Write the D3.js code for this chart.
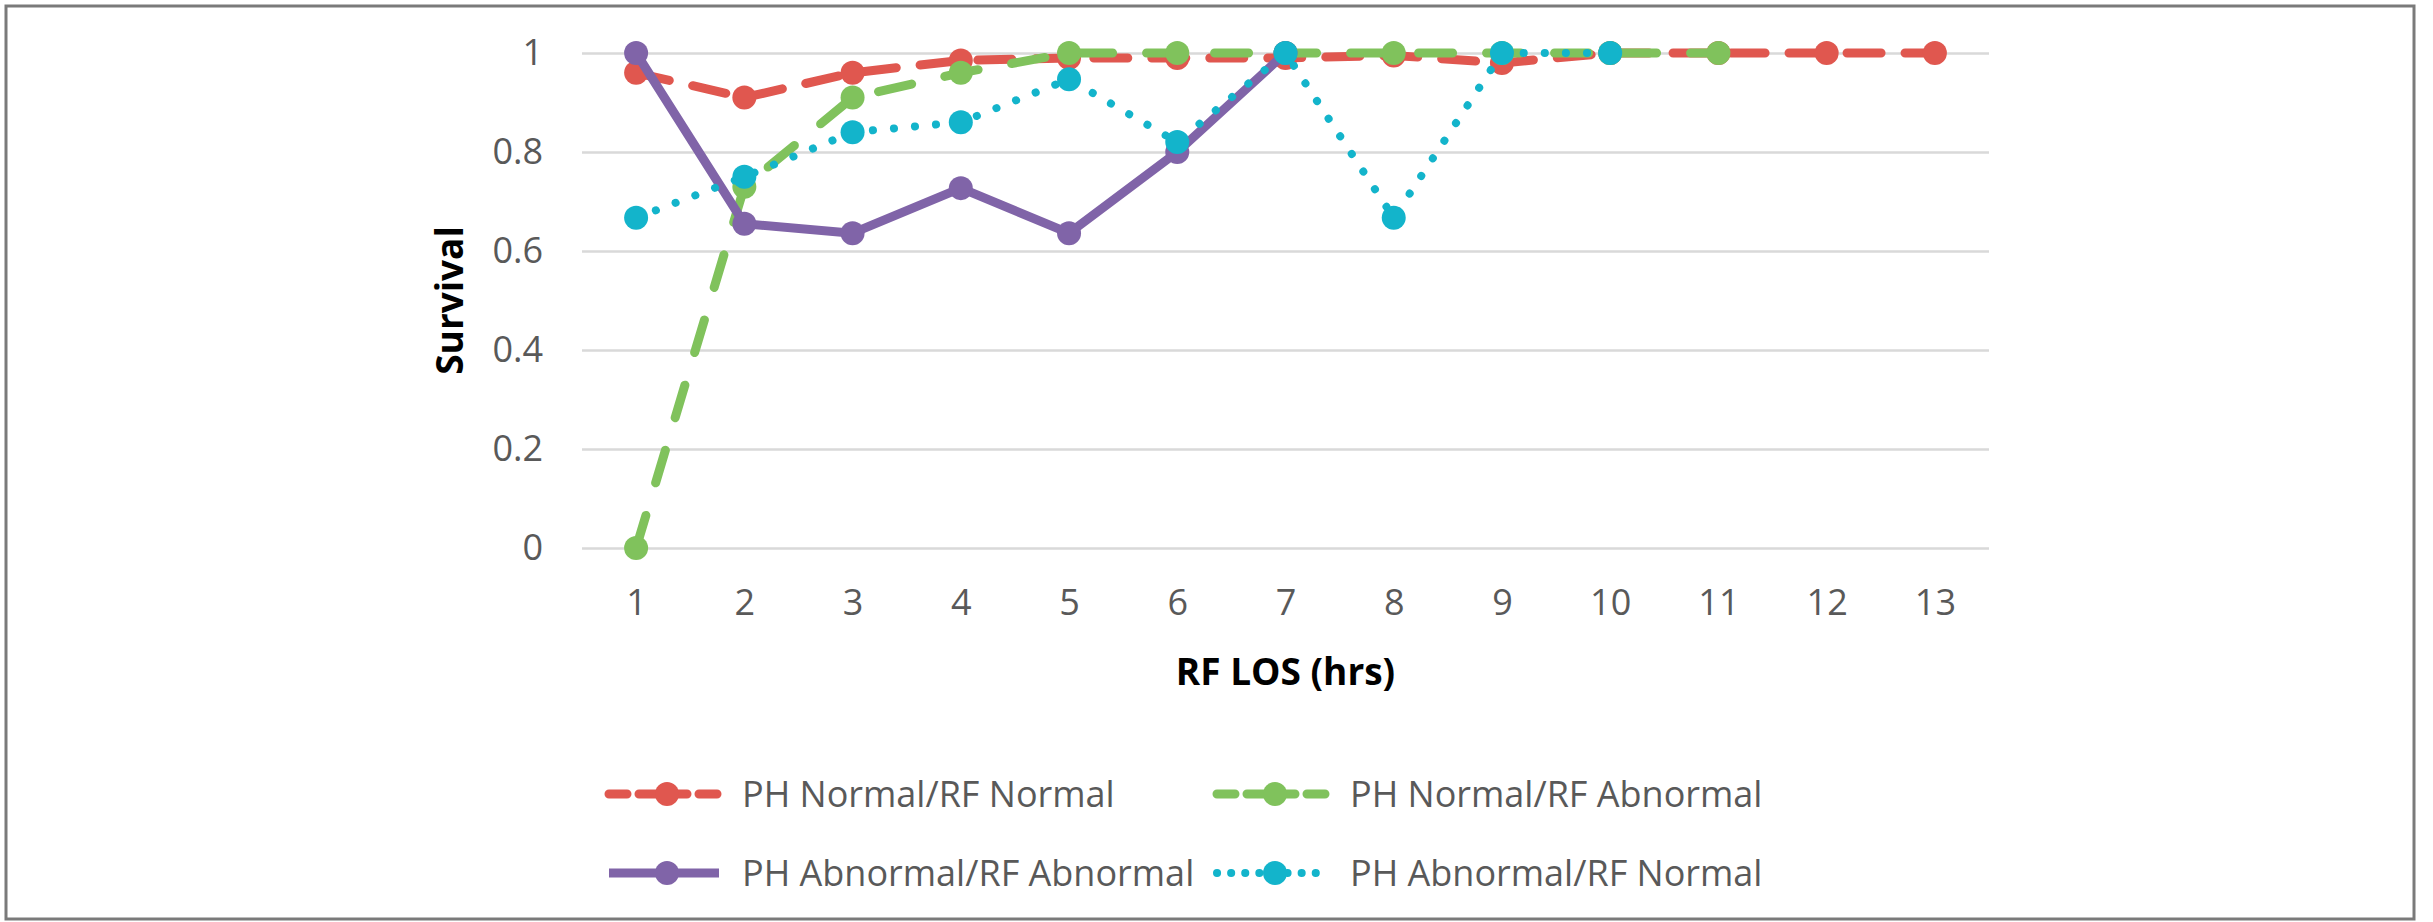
<!DOCTYPE html>
<html>
<head>
<meta charset="utf-8">
<script src="https://cdn.jsdelivr.net/npm/d3@7"></script>
<style>
  body { margin: 0; background: #fff; }
  text { font-family: "Open Sans", sans-serif; }
</style>
</head>
<body>
<svg></svg>
<script>
// chart data
var categories = [1, 2, 3, 4, 5, 6, 7, 8, 9, 10, 11, 12, 13];
var yTicks = [0, 0.2, 0.4, 0.6, 0.8, 1];
var seriesNames = ["PH Normal/RF Normal", "PH Normal/RF Abnormal", "PH Abnormal/RF Abnormal", "PH Abnormal/RF Normal"];
var normNorm = [0.96, 0.91, 0.96, 0.985, 0.99, 0.99, 0.99, 0.995, 0.98, 1, 1, 1, 1];
var normAbn = [0, 0.73, 0.91, 0.96, 1, 1, 1, 1, 1, 1, 1, null, null];
var abnAbn = [1, 0.655, 0.636, 0.727, 0.636, 0.8, 1, null, null, null, null, null, null];
var abnNorm = [0.667, 0.75, 0.84, 0.86, 0.947, 0.82, 1, 0.667, 1, 1, null, null, null];

var W = 2433, H = 922;
var plot = { left: 582, right: 1989, top: 53, bottom: 548 };

var svg = d3.select("svg")
    .attr("width", W)
    .attr("height", H);

// outer frame
svg.append("rect")
    .attr("x", 6).attr("y", 6)
    .attr("width", 2408).attr("height", 913)
    .attr("fill", "#fff")
    .attr("stroke", "#7a7a7a")
    .attr("stroke-width", 3);

var x = d3.scalePoint()
    .domain(categories)
    .range([plot.left, plot.right])
    .padding(0.5);

var y = d3.scaleLinear()
    .domain([0, 1])
    .range([plot.bottom, plot.top]);

// y axis + gridlines
var yAxis = svg.append("g")
    .attr("transform", "translate(" + plot.left + ",0)")
    .call(d3.axisLeft(y)
        .tickValues(yTicks)
        .tickSize(-(plot.right - plot.left))
        .tickPadding(39)
        .tickFormat(function(d) { return d3.format("~g")(d); }));
yAxis.select(".domain").remove();
yAxis.selectAll(".tick line")
    .attr("stroke", "#d9d9d9")
    .attr("stroke-width", 2.5);
yAxis.selectAll(".tick text")
    .attr("fill", "#595959")
    .style("font-size", "36px");

// x axis
var xAxis = svg.append("g")
    .attr("transform", "translate(0," + plot.bottom + ")")
    .call(d3.axisBottom(x).tickSize(0).tickPadding(41));
xAxis.select(".domain").remove();
xAxis.selectAll(".tick text")
    .attr("fill", "#595959")
    .style("font-size", "36px");

// axis titles
svg.append("text")
    .attr("x", (plot.left + plot.right) / 2)
    .attr("y", 685)
    .attr("text-anchor", "middle")
    .style("font-size", "37px")
    .style("font-weight", "bold")
    .attr("fill", "#000")
    .text("RF LOS (hrs)");

svg.append("text")
    .attr("transform", "translate(463," + ((plot.top + plot.bottom) / 2) + ") rotate(-90)")
    .attr("text-anchor", "middle")
    .style("font-size", "37px")
    .style("font-weight", "bold")
    .attr("fill", "#000")
    .text("Survival");

var series = [
    { name: seriesNames[0], values: normNorm, color: "#e0574f", dash: "34,24", width: 9 },
    { name: seriesNames[1], values: normAbn, color: "#80c25c", dash: "34,34", width: 9 },
    { name: seriesNames[2], values: abnAbn, color: "#8064a8", dash: null, width: 9 },
    { name: seriesNames[3], values: abnNorm, color: "#13b4cb", dash: "0.1,21", width: 8 }
];

var line = d3.line()
    .defined(function(d) { return d.v != null; })
    .x(function(d) { return x(d.c); })
    .y(function(d) { return y(d.v); });

series.forEach(function(s) {
    var pts = categories.map(function(c, i) { return { c: c, v: s.values[i] }; });
    var g = svg.append("g");
    g.append("path")
        .datum(pts)
        .attr("d", line)
        .attr("fill", "none")
        .attr("stroke", s.color)
        .attr("stroke-width", s.width)
        .attr("stroke-linecap", "round")
        .attr("stroke-linejoin", "round")
        .attr("stroke-dasharray", s.dash);
    g.selectAll("circle")
        .data(pts.filter(function(d) { return d.v != null; }))
        .enter().append("circle")
        .attr("cx", function(d) { return x(d.c); })
        .attr("cy", function(d) { return y(d.v); })
        .attr("r", 12)
        .attr("fill", s.color);
});

// legend
var legendPos = [
    { x: 605, y: 794 },
    { x: 1213, y: 794 },
    { x: 605, y: 873 },
    { x: 1213, y: 873 }
];

series.forEach(function(s, i) {
    var p = legendPos[i];
    var g = svg.append("g").attr("transform", "translate(" + p.x + "," + p.y + ")");
    g.append("line")
        .attr("x1", 4).attr("x2", 114)
        .attr("y1", 0).attr("y2", 0)
        .attr("stroke", s.color)
        .attr("stroke-width", s.width)
        .attr("stroke-linecap", s.dash ? "round" : "butt")
        .attr("stroke-dasharray", s.dash ? (i == 3 ? "0.1,14" : "18,12") : null);
    g.append("circle")
        .attr("cx", 62).attr("cy", 0)
        .attr("r", 12)
        .attr("fill", s.color);
    g.append("text")
        .attr("x", 137)
        .attr("y", 0)
        .attr("dy", "0.36em")
        .attr("fill", "#595959")
        .style("font-size", "36px")
        .text(s.name);
});
</script>
</body>
</html>
